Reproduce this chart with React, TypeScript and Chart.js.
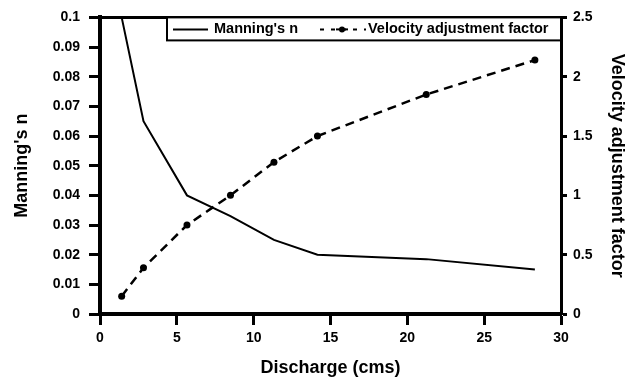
import React, { useEffect, useRef } from "react";
import { Chart, registerables } from "chart.js";

Chart.register(...registerables);

const discharge = [1.41, 2.83, 5.66, 8.49, 11.32, 14.15, 21.23, 28.3];
const manningsN = [0.1, 0.065, 0.04, 0.033, 0.025, 0.02, 0.0185, 0.015];
const velocityFactor = [0.15, 0.39, 0.75, 1.0, 1.28, 1.5, 1.85, 2.14];

const xTitle = "Discharge (cms)";
const yTitle = "Manning's n";
const y1Title = "Velocity adjustment factor";
const legendLabels = ["Manning's n", "Velocity adjustment factor"];

const FONT = "'Liberation Sans', Arial, Helvetica, sans-serif";

const frameAndLegend = {
  id: "frameAndLegend",
  afterDraw(chart: any) {
    const { ctx, chartArea } = chart;
    const { left, right, top } = chartArea;
    ctx.save();
    // top border
    ctx.strokeStyle = "#000";
    ctx.lineWidth = 3;
    ctx.beginPath();
    ctx.moveTo(left - 2, top);
    ctx.lineTo(right + 1, top);
    ctx.stroke();

    // legend box
    const bx = 167;
    const by = top;
    const bw = right - bx;
    const bh = 23;
    ctx.fillStyle = "#fff";
    ctx.fillRect(bx, by, bw, bh);
    ctx.lineWidth = 2;
    ctx.strokeRect(bx, by, bw, bh);

    const cy = by + bh / 2 + 0.5;
    // solid sample
    ctx.lineWidth = 2;
    ctx.beginPath();
    ctx.moveTo(173, cy);
    ctx.lineTo(208, cy);
    ctx.stroke();
    ctx.font = `bold 14.5px ${FONT}`;
    ctx.fillStyle = "#000";
    ctx.textBaseline = "middle";
    ctx.textAlign = "left";
    ctx.fillText(legendLabels[0], 214, cy);

    // dashed sample
    ctx.lineWidth = 2;
    ctx.setLineDash([4, 7]);
    ctx.beginPath();
    ctx.moveTo(320, cy);
    ctx.lineTo(366, cy);
    ctx.stroke();
    ctx.setLineDash([]);
    ctx.beginPath();
    ctx.moveTo(336, cy);
    ctx.lineTo(348, cy);
    ctx.stroke();
    ctx.beginPath();
    ctx.arc(342, cy, 3, 0, Math.PI * 2);
    ctx.fill();
    ctx.fillText(legendLabels[1], 368, cy);
    ctx.restore();
  },
};

export default function App() {
  const ref = useRef<HTMLCanvasElement | null>(null);

  useEffect(() => {
    if (!ref.current) return;
    const chart = new Chart(ref.current, {
      type: "line",
      data: {
        datasets: [
          {
            label: legendLabels[0],
            data: discharge.map((x, i) => ({ x, y: manningsN[i] })),
            borderColor: "#000",
            borderWidth: 2,
            pointRadius: 0,
            yAxisID: "y",
            tension: 0,
          },
          {
            label: legendLabels[1],
            data: discharge.map((x, i) => ({ x, y: velocityFactor[i] })),
            borderColor: "#000",
            backgroundColor: "#000",
            borderWidth: 2.5,
            borderDash: [9, 6],
            pointRadius: 3.5,
            pointBorderWidth: 0,
            pointBackgroundColor: "#000",
            yAxisID: "y1",
            tension: 0,
          },
        ],
      },
      options: {
        responsive: false,
        animation: false,
        layout: { padding: { top: 16, left: 0, right: 0, bottom: 0 } },
        plugins: {
          legend: { display: false },
          tooltip: { enabled: false },
        },
        scales: {
          x: {
            type: "linear",
            min: 0,
            max: 30,
            ticks: {
              stepSize: 5,
              padding: 5,
              color: "#000",
              font: { family: FONT, weight: "bold", size: 14 },
            },
            grid: {
              drawOnChartArea: false,
              drawTicks: true,
              tickLength: 11,
              tickWidth: 3,
              tickColor: "#000",
            },
            border: { display: true, color: "#000", width: 4 },
            title: {
              display: true,
              text: xTitle,
              color: "#000",
              font: { family: FONT, weight: "bold", size: 18 },
              padding: { top: 0, bottom: 0 },
            },
            afterFit: (s: any) => {
              s.height = 65;
            },
          },
          y: {
            type: "linear",
            position: "left",
            min: 0,
            max: 0.1,
            ticks: {
              stepSize: 0.01,
              padding: 9,
              color: "#000",
              font: { family: FONT, weight: "bold", size: 14 },
              callback: (v: any) => String(Number(Number(v).toFixed(2))),
            },
            grid: {
              drawOnChartArea: false,
              drawTicks: true,
              tickLength: 11,
              tickWidth: 3,
              tickColor: "#000",
            },
            border: { display: true, color: "#000", width: 4 },
            title: {
              display: true,
              text: yTitle,
              color: "#000",
              font: { family: FONT, weight: "bold", size: 18 },
              padding: { top: 11, bottom: 0 },
            },
            afterFit: (s: any) => {
              s.width = 100;
            },
          },
          y1: {
            type: "linear",
            position: "right",
            min: 0,
            max: 2.5,
            ticks: {
              stepSize: 0.5,
              padding: 6,
              color: "#000",
              font: { family: FONT, weight: "bold", size: 14 },
              callback: (v: any) => String(Number(Number(v).toFixed(1))),
            },
            grid: {
              drawOnChartArea: false,
              drawTicks: true,
              tickLength: 6,
              tickWidth: 3,
              tickColor: "#000",
            },
            border: { display: true, color: "#000", width: 3 },
            title: {
              display: true,
              text: y1Title,
              color: "#000",
              font: { family: FONT, weight: "bold", size: 18 },
              padding: { top: 4, bottom: 0 },
            },
            afterFit: (s: any) => {
              s.width = 71;
            },
          },
        },
      },
      plugins: [frameAndLegend],
    });
    return () => chart.destroy();
  }, []);

  return (
    <div style={{ position: "absolute", left: 0, top: 0, width: 632, height: 379, background: "#fff" }}>
      <canvas ref={ref} width={632} height={379} style={{ display: "block" }} />
    </div>
  );
}
